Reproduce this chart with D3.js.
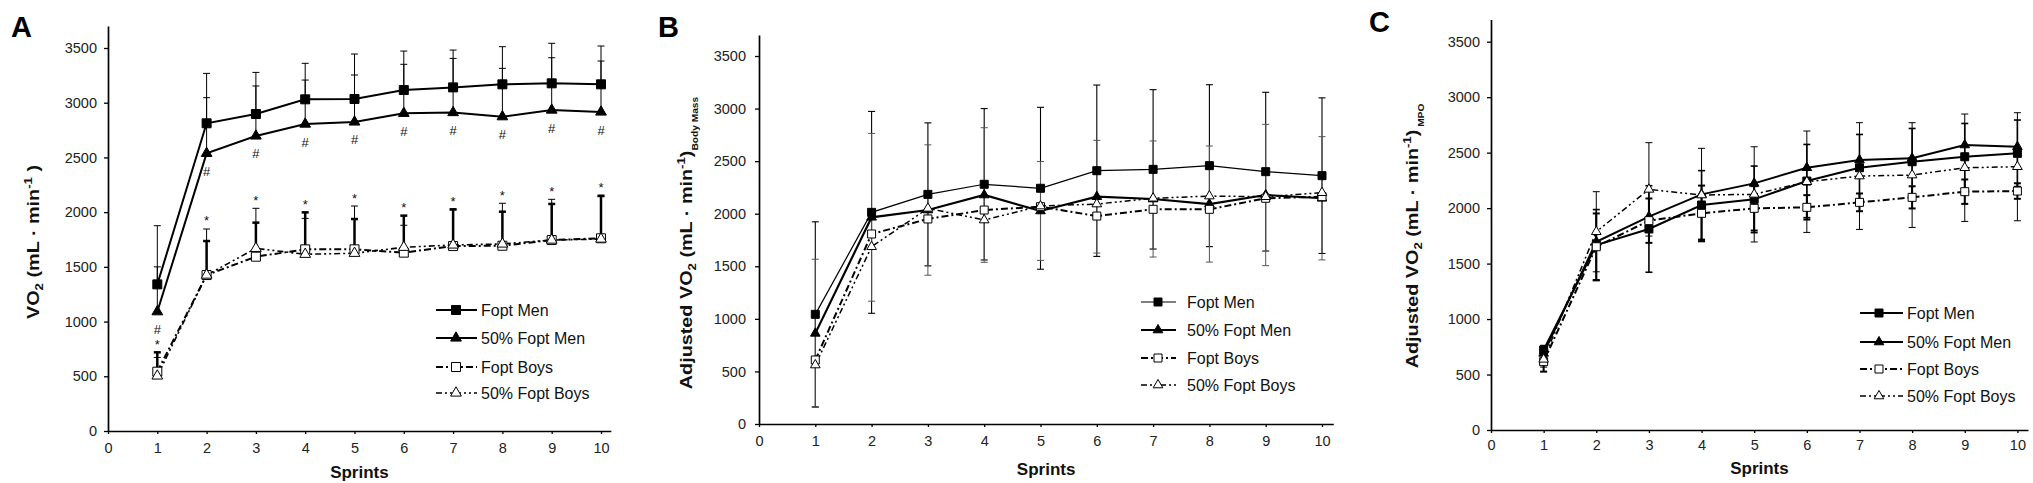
<!DOCTYPE html>
<html>
<head>
<meta charset="utf-8">
<script src="https://cdn.jsdelivr.net/npm/d3@7"></script>
<style>
    body { margin: 0; background: #fff; }
    svg text { font-family: "Liberation Sans", Arial, sans-serif; }
</style>
</head>
<body>
<div id="chart"></div>
<script>
const sprints = [1, 2, 3, 4, 5, 6, 7, 8, 9, 10];
const xTickValues = [0, 1, 2, 3, 4, 5, 6, 7, 8, 9, 10];
const yTickValues = [0, 500, 1000, 1500, 2000, 2500, 3000, 3500];
const seriesNames = ['Fopt Men', '50% Fopt Men', 'Fopt Boys', '50% Fopt Boys'];

// Panel A - absolute VO2 (mean, SD)
const menA = [1340, 2812, 2897, 3031, 3034, 3116, 3140, 3168, 3177, 3168];
const menSdA = [536, 456, 380, 329, 411, 356, 341, 344, 366, 350];
const halfMenA = [1090, 2537, 2696, 2805, 2824, 2903, 2910, 2872, 2933, 2915];
const halfMenSdA = [410, 509, 457, 402, 429, 448, 495, 442, 478, 466];
const boysA = [542, 1425, 1593, 1660, 1660, 1630, 1690, 1693, 1745, 1761];
const boysSdA = [130, 421, 442, 283, 396, 250, 330, 388, 372, 380];
const halfBoysA = [503, 1425, 1669, 1615, 1624, 1679, 1700, 1709, 1745, 1754];
const halfBoysSdA = [216, 311, 235, 383, 313, 289, 326, 295, 330, 396];
const hashA = ['#', '#', '#', '#', '#', '#', '#', '#', '#', '#'];
const starA = ['*', '*', '*', '*', '*', '*', '*', '*', '*', '*'];

// Panel B - adjusted for body mass
const menB = [1043, 2013, 2184, 2280, 2242, 2409, 2422, 2457, 2400, 2362];
const menSdB = [880, 960, 680, 720, 770, 815, 758, 770, 755, 740];
const halfMenB = [862, 1966, 2035, 2178, 2026, 2162, 2140, 2092, 2178, 2147];
const halfMenSdB = [705, 798, 620, 640, 470, 536, 552, 552, 672, 586];
const boysB = [609, 1807, 1950, 2035, 2067, 1978, 2042, 2042, 2147, 2162];
const halfBoysB = [561, 1686, 2051, 1940, 2073, 2092, 2147, 2168, 2162, 2200];

// Panel C - adjusted for MPO
const menC = [721, 1667, 1812, 2028, 2079, 2244, 2364, 2418, 2463, 2494];
const menSdC = [40, 320, 390, 310, 300, 330, 300, 300, 300, 300];
const halfMenC = [691, 1697, 1923, 2124, 2223, 2364, 2434, 2449, 2569, 2553];
const boysC = [616, 1652, 1887, 1953, 1998, 2007, 2052, 2097, 2148, 2154];
const boysSdC = [90, 300, 200, 250, 200, 110, 80, 100, 110, 70];
const halfBoysC = [637, 1787, 2169, 2118, 2124, 2238, 2289, 2298, 2364, 2373];
const halfBoysSdC = [70, 361, 421, 421, 429, 457, 481, 472, 484, 487];

const svg = d3.select('#chart').append('svg')
    .attr('width', 2033)
    .attr('height', 483);

const symbolPath = (type, size) => type === 'square'
    ? d3.symbol(d3.symbolSquare, size * size)()
    : d3.symbol(d3.symbolTriangle, Math.sqrt(3) / 4 * size * size * 1.15)();

function drawPanel(cfg) {
    const g = svg.append('g');

    const x = d3.scaleLinear().domain([0, 10.2]).range([cfg.x0, cfg.x0 + 10.2 * cfg.xUnit]);
    const y = d3.scaleLinear().domain([0, 3700]).range([cfg.y0, cfg.y0 - 3700 * cfg.yUnit]);

    // axes
    g.append('g')
        .attr('transform', `translate(0,${cfg.y0})`)
        .call(d3.axisBottom(x).tickValues(xTickValues).tickFormat(d3.format('d'))
            .tickSizeInner(3).tickSizeOuter(0).tickPadding(cfg.xPad))
        .attr('font-family', null).attr('font-size', 14.5);
    g.append('g')
        .attr('transform', `translate(${cfg.x0},0)`)
        .call(d3.axisLeft(y).tickValues(yTickValues).tickFormat(d3.format('d'))
            .tickSizeInner(4).tickSizeOuter(0).tickPadding(cfg.yPad))
        .attr('font-family', null).attr('font-size', 14.5);
    g.selectAll('.domain').attr('stroke', '#000').attr('stroke-width', 1.7);
    g.selectAll('.tick line').attr('stroke', '#000').attr('stroke-width', 1.3);
    g.selectAll('.tick text').attr('fill', '#222');

    // error bars
    cfg.series.forEach(s => {
        if (!s.sd) return;
        const pts = sprints.map((d, i) => ({x: d, v: s.values[i], sd: s.sd[i]}));
        const eb = g.append('g').selectAll('g').data(pts).join('g')
            .attr('stroke', s.barColor || '#000')
            .attr('stroke-width', s.barW);
        eb.append('line')
            .attr('x1', d => x(d.x)).attr('x2', d => x(d.x))
            .attr('y1', d => y(cfg.bars === 'up' ? d.v : d.v - d.sd))
            .attr('y2', d => y(d.v + d.sd));
        eb.append('line')
            .attr('x1', d => x(d.x) - 3.5).attr('x2', d => x(d.x) + 3.5)
            .attr('y1', d => y(d.v + d.sd)).attr('y2', d => y(d.v + d.sd));
        if (cfg.bars === 'both') {
            eb.append('line')
                .attr('x1', d => x(d.x) - 3.5).attr('x2', d => x(d.x) + 3.5)
                .attr('y1', d => y(d.v - d.sd)).attr('y2', d => y(d.v - d.sd));
        }
    });

    // lines
    const line = d3.line().x((d, i) => x(sprints[i])).y(d => y(d));
    cfg.series.forEach(s => {
        g.append('path')
            .datum(s.values)
            .attr('d', line)
            .attr('fill', 'none')
            .attr('stroke', '#000')
            .attr('stroke-width', s.lineW)
            .attr('stroke-dasharray', s.dash);
    });

    // markers
    cfg.series.forEach(s => {
        g.append('g').selectAll('path').data(s.values).join('path')
            .attr('transform', (d, i) => `translate(${x(sprints[i])},${y(d)})`)
            .attr('d', symbolPath(s.sym, s.sym === 'square' ? cfg.sq : cfg.tri))
            .attr('fill', s.fill)
            .attr('stroke', '#000')
            .attr('stroke-width', 1);
    });

    // significance marks (panel A only)
    if (cfg.hash) {
        g.append('g').selectAll('text').data(cfg.hash).join('text')
            .attr('x', (d, i) => x(sprints[i]))
            .attr('y', (d, i) => y(cfg.series[1].values[i]) + 22.5)
            .attr('text-anchor', 'middle')
            .attr('font-size', 13)
            .attr('fill', '#111')
            .text(d => d);
        g.append('g').selectAll('text').data(cfg.star).join('text')
            .attr('x', (d, i) => x(sprints[i]))
            .attr('y', (d, i) => y(Math.max(cfg.series[2].values[i] + cfg.series[2].sd[i],
                cfg.series[3].values[i] + cfg.series[3].sd[i])) - 3.5)
            .attr('text-anchor', 'middle')
            .attr('font-size', 13)
            .attr('fill', '#111')
            .text(d => d);
    }

    // panel letter
    g.append('text')
        .attr('x', cfg.letterX).attr('y', cfg.letterY)
        .attr('font-size', 29).attr('font-weight', 'bold').attr('fill', '#000')
        .text(cfg.letter);

    // x title
    g.append('text')
        .attr('x', (x.range()[0] + x.range()[1]) / 2).attr('y', cfg.xTitleY)
        .attr('text-anchor', 'middle')
        .attr('font-size', 17).attr('font-weight', 'bold').attr('fill', '#111')
        .text('Sprints');

    // y title with sub/superscripts (stretched along the reading direction like the source)
    const yt = g.append('text')
        .attr('transform', `translate(${cfg.yTitleX},${cfg.yTitleY}) rotate(-90) scale(1.2,1)`)
        .attr('text-anchor', 'middle')
        .attr('font-size', 16.5).attr('font-weight', 'bold').attr('fill', '#111');
    cfg.yTitle.forEach(([txt, kind]) => {
        const t = yt.append('tspan').text(txt);
        if (kind === 'sub') t.attr('font-size', 11).attr('dy', 4);
        else if (kind === 'back') t.attr('dy', -4);
        else if (kind === 'sup') t.attr('font-size', 11).attr('dy', -7);
        else if (kind === 'backsup') t.attr('dy', 7);
        else if (kind === 'subs') t.attr('font-size', 8.5).attr('dy', 6);
    });

    // legend
    const lg = g.append('g');
    cfg.series.forEach((s, i) => {
        const ly = cfg.legend.ys[i];
        lg.append('line')
            .attr('x1', cfg.legend.x1).attr('x2', cfg.legend.x2)
            .attr('y1', ly).attr('y2', ly)
            .attr('stroke', '#000').attr('stroke-width', s.lineW)
            .attr('stroke-dasharray', s.dash);
        lg.append('path')
            .attr('transform', `translate(${cfg.legend.mx},${ly})`)
            .attr('d', symbolPath(s.sym, s.sym === 'square' ? cfg.sq : cfg.tri))
            .attr('fill', s.fill).attr('stroke', '#000').attr('stroke-width', 1);
        lg.append('text')
            .attr('x', cfg.legend.tx).attr('y', ly + 6)
            .attr('font-size', 16).attr('fill', '#111')
            .text(seriesNames[i]);
    });
}

const dashBoys = '7,3,2,3';
const dashHalfBoys = '6,3,2,3,2,3';

drawPanel({
    letter: 'A', letterX: 11, letterY: 37,
    x0: 108, xUnit: 49.3, y0: 431, yUnit: 0.10943, xPad: 9, yPad: 7,
    bars: 'up', sq: 9, tri: 10,
    xTitleY: 478,
    yTitleX: 39, yTitleY: 242,
    yTitle: [['VO'], ['2', 'sub'], [' (mL · min', 'back'], ['-1', 'sup'], [' )', 'backsup']],
    legend: {x1: 436, x2: 477, mx: 456, tx: 481, ys: [310, 338, 367, 393]},
    hash: hashA, star: starA,
    series: [
        {values: menA, sd: menSdA, sym: 'square', fill: '#000', lineW: 2, barW: 1},
        {values: halfMenA, sd: halfMenSdA, sym: 'triangle', fill: '#000', lineW: 2, barW: 1},
        {values: boysA, sd: boysSdA, sym: 'square', fill: '#fff', lineW: 2, dash: dashBoys, barW: 1},
        {values: halfBoysA, sd: halfBoysSdA, sym: 'triangle', fill: '#fff', lineW: 1.6, dash: dashHalfBoys, barW: 2.5}
    ]
});

drawPanel({
    letter: 'B', letterX: 658, letterY: 37,
    x0: 759, xUnit: 56.3, y0: 424, yUnit: 0.10514, xPad: 9, yPad: 9,
    bars: 'both', sq: 8, tri: 9,
    xTitleY: 475,
    yTitleX: 692, yTitleY: 243,
    yTitle: [['Adjusted VO'], ['2', 'sub'], [' (mL · min', 'back'], ['-1', 'sup'], [')', 'backsup'], ['Body Mass', 'subs']],
    legend: {x1: 1141, x2: 1176, mx: 1158, tx: 1187, ys: [302, 330, 358, 385]},
    series: [
        {values: menB, sd: menSdB, sym: 'square', fill: '#000', lineW: 1.2, barW: 1.1},
        {values: halfMenB, sd: halfMenSdB, sym: 'triangle', fill: '#000', lineW: 2.2, barW: 1, barColor: '#555'},
        {values: boysB, sd: null, sym: 'square', fill: '#fff', lineW: 2, dash: dashBoys},
        {values: halfBoysB, sd: null, sym: 'triangle', fill: '#fff', lineW: 1.5, dash: dashHalfBoys}
    ]
});

drawPanel({
    letter: 'C', letterX: 1369, letterY: 32,
    x0: 1491, xUnit: 52.64, y0: 430, yUnit: 0.11094, xPad: 7, yPad: 7,
    bars: 'both', sq: 8, tri: 9,
    xTitleY: 474,
    yTitleX: 1418, yTitleY: 236,
    yTitle: [['Adjusted VO'], ['2', 'sub'], [' (mL · min', 'back'], ['-1', 'sup'], [')', 'backsup'], [' MPO', 'subs']],
    legend: {x1: 1860, x2: 1903, mx: 1879, tx: 1907, ys: [313, 342, 369, 396]},
    series: [
        {values: menC, sd: menSdC, sym: 'square', fill: '#000', lineW: 2, barW: 1.6},
        {values: halfMenC, sd: null, sym: 'triangle', fill: '#000', lineW: 2},
        {values: boysC, sd: boysSdC, sym: 'square', fill: '#fff', lineW: 2, dash: dashBoys, barW: 2},
        {values: halfBoysC, sd: halfBoysSdC, sym: 'triangle', fill: '#fff', lineW: 1.5, dash: dashHalfBoys, barW: 1}
    ]
});
</script>
</body>
</html>
